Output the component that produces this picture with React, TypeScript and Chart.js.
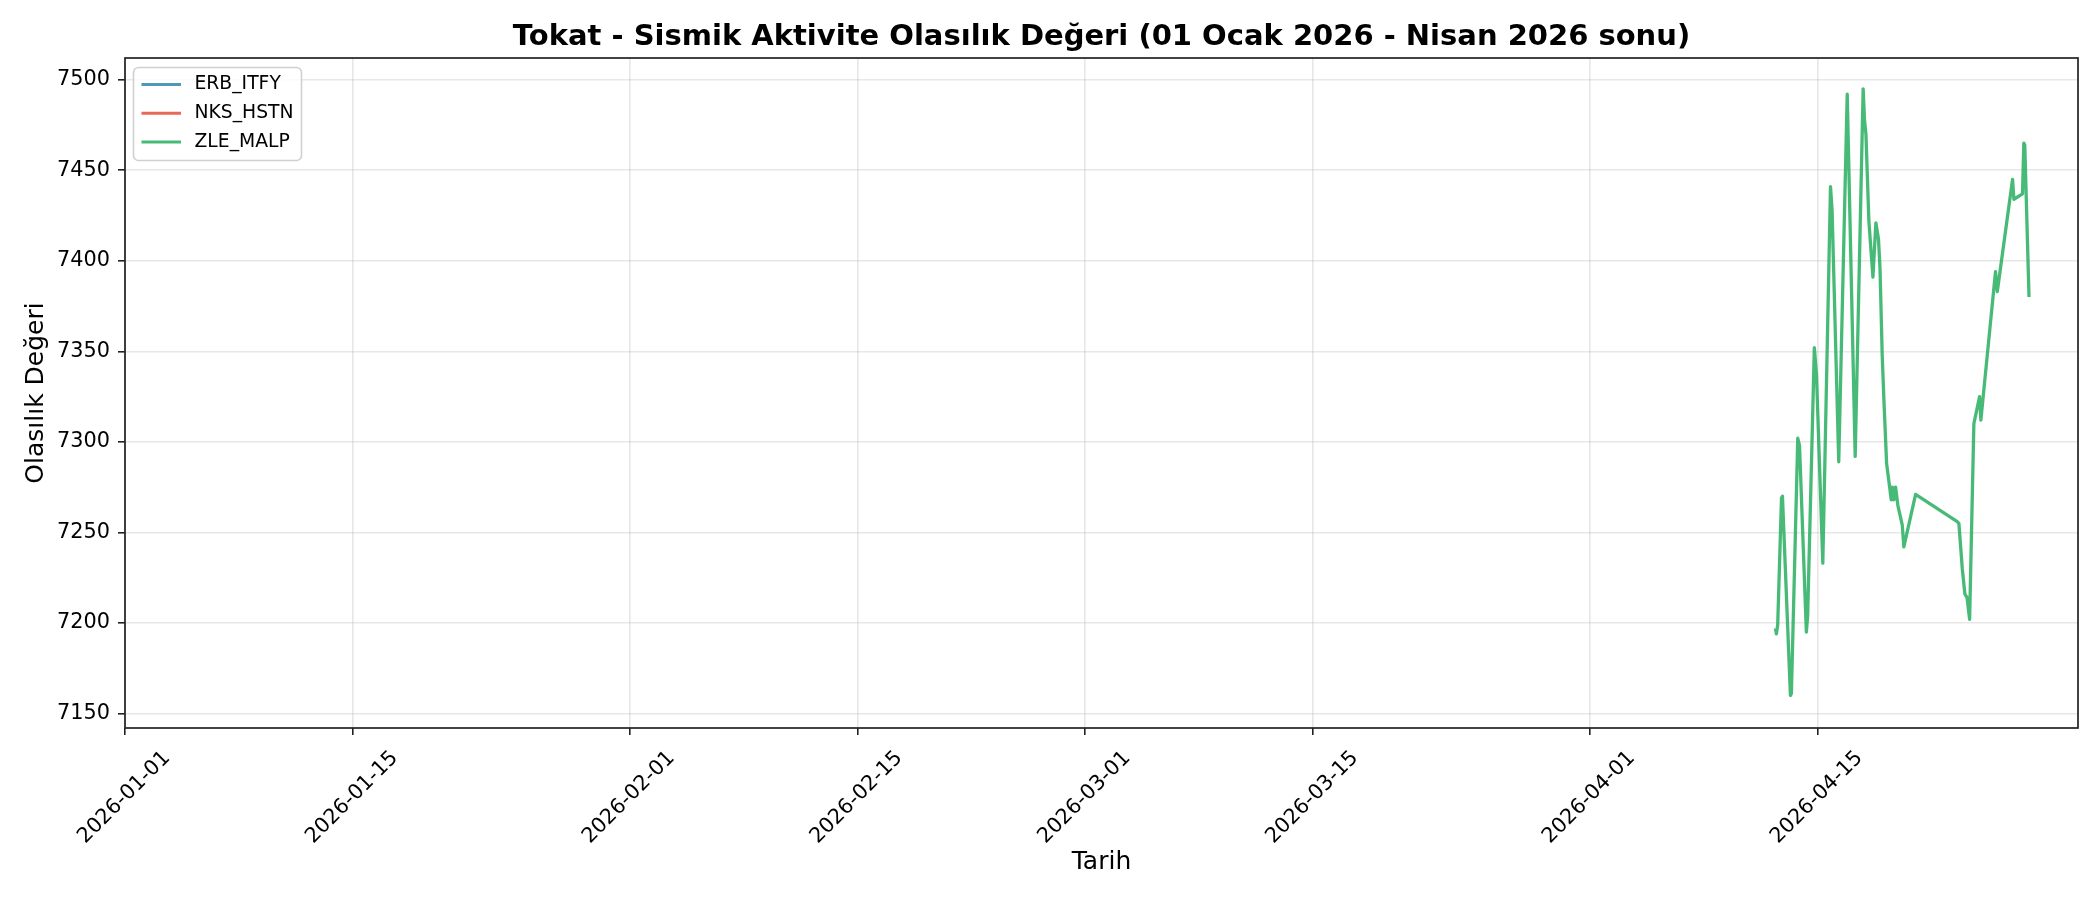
import React, { useEffect, useRef } from "react";
import { Chart, registerables } from "chart.js";

Chart.register(...registerables);

const TITLE = "Tokat - Sismik Aktivite Olasılık Değeri (01 Ocak 2026 - Nisan 2026 sonu)";
const X_TITLE = "Tarih";
const Y_TITLE = "Olasılık Değeri";

const SERIES_NAMES = ["ERB_ITFY", "NKS_HSTN", "ZLE_MALP"];
const SERIES_COLORS = ["rgba(46,134,171,0.85)", "rgba(231,76,60,0.85)", "rgba(39,174,96,0.85)"];

// ERB_ITFY and NKS_HSTN have no points in the shown range
const ERB_TIMES: string[] = [];
const ERB_VALUES: number[] = [];
const NKS_TIMES: string[] = [];
const NKS_VALUES: number[] = [];

const ZLE_TIMES = [
  "2026-04-12 09:50", "2026-04-12 11:15", "2026-04-12 13:10", "2026-04-12 18:45",
  "2026-04-12 20:10", "2026-04-12 22:05", "2026-04-13 07:55", "2026-04-13 09:20",
  "2026-04-13 18:45", "2026-04-13 21:20", "2026-04-14 07:25", "2026-04-14 09:20",
  "2026-04-14 19:10", "2026-04-14 22:20", "2026-04-15 07:40", "2026-04-15 19:00",
  "2026-04-15 21:20", "2026-04-16 07:10", "2026-04-16 19:40", "2026-04-17 07:25",
  "2026-04-17 19:10", "2026-04-17 21:05", "2026-04-17 23:15", "2026-04-18 03:35",
  "2026-04-18 09:35", "2026-04-18 13:55", "2026-04-18 17:45", "2026-04-18 20:00",
  "2026-04-18 23:15", "2026-04-19 01:40", "2026-04-19 05:45", "2026-04-19 10:35",
  "2026-04-19 12:30", "2026-04-19 14:25", "2026-04-19 16:20", "2026-04-19 19:00",
  "2026-04-19 22:20", "2026-04-20 04:50", "2026-04-20 07:10", "2026-04-21 00:30",
  "2026-04-23 13:55", "2026-04-23 16:20", "2026-04-23 21:20", "2026-04-24 01:10",
  "2026-04-24 04:20", "2026-04-24 08:10", "2026-04-24 14:25", "2026-04-24 22:50",
  "2026-04-25 00:45", "2026-04-25 22:20", "2026-04-26 01:00", "2026-04-26 23:30",
  "2026-04-27 01:25", "2026-04-27 14:10", "2026-04-27 16:05", "2026-04-27 17:30",
  "2026-04-27 23:45",
];
const ZLE_VALUES = [
  7197, 7194, 7199, 7269,
  7270, 7252, 7160, 7161,
  7302, 7298, 7195, 7204,
  7352, 7337, 7233, 7441,
  7428, 7289, 7492, 7292,
  7495, 7478, 7470, 7422,
  7391, 7421, 7412, 7396,
  7348, 7324, 7288, 7274,
  7268, 7275, 7268, 7275,
  7265, 7254, 7242, 7271,
  7256, 7255, 7230, 7216,
  7214, 7202, 7310, 7325,
  7312, 7394, 7383, 7445,
  7434, 7437, 7465, 7464,
  7380,
];

const X_TICKS = [
  "2026-01-01", "2026-01-15", "2026-02-01", "2026-02-15",
  "2026-03-01", "2026-03-15", "2026-04-01", "2026-04-15",
];
const X_MIN = "2026-01-01 00:00";
const X_MAX = "2026-04-30 23:59";
const Y_MIN = 7142;
const Y_MAX = 7512;
const Y_STEP = 50;

const FONT = "'DejaVu Sans', sans-serif";

const toMs = (s: string) => Date.parse((s.length === 10 ? s + " 00:00" : s).replace(" ", "T") + ":00Z");
const fmtDate = (ms: number) => new Date(ms).toISOString().slice(0, 10);

const points = (times: string[], values: number[]) =>
  times.map((t, i) => ({ x: toMs(t), y: values[i] }));

// spines, title and the legend box drawn the way matplotlib does
const framePlugin = {
  id: "frame",
  afterDraw(chart: any) {
    const { ctx, chartArea } = chart;
    const { left, right, top, bottom } = chartArea;
    ctx.save();

    ctx.strokeStyle = "#222";
    ctx.lineWidth = 1.7;
    ctx.strokeRect(left, top, right - left, bottom - top);

    ctx.fillStyle = "#000";
    ctx.font = `bold 29px ${FONT}`;
    ctx.textAlign = "center";
    ctx.textBaseline = "middle";
    ctx.fillText(TITLE, (left + right) / 2, 37);

    // legend
    const bx = left + 8.5;
    const by = top + 9.5;
    const bw = 168;
    const bh = 93;
    ctx.beginPath();
    ctx.roundRect(bx, by, bw, bh, 5);
    ctx.fillStyle = "rgba(255,255,255,0.8)";
    ctx.fill();
    ctx.strokeStyle = "#d0d0d0";
    ctx.lineWidth = 1.6;
    ctx.stroke();

    ctx.font = `18.75px ${FONT}`;
    ctx.textAlign = "left";
    chart.data.datasets.forEach((ds: any, i: number) => {
      const y = by + 17 + i * 28.7;
      ctx.beginPath();
      ctx.moveTo(bx + 8, y);
      ctx.lineTo(bx + 47.5, y);
      ctx.strokeStyle = ds.borderColor;
      ctx.lineWidth = 3;
      ctx.stroke();
      ctx.fillStyle = "#000";
      ctx.fillText(ds.label, bx + 61, y);
    });

    ctx.restore();
  },
};

const App = () => {
  const chartRef = useRef<HTMLCanvasElement | null>(null);

  useEffect(() => {
    document.body.style.margin = "0";
    if (!chartRef.current) return;

    const series = [
      points(ERB_TIMES, ERB_VALUES),
      points(NKS_TIMES, NKS_VALUES),
      points(ZLE_TIMES, ZLE_VALUES),
    ];

    const chart = new Chart(chartRef.current, {
      type: "line",
      data: {
        datasets: series.map((data, i) => ({
          label: SERIES_NAMES[i],
          data,
          borderColor: SERIES_COLORS[i],
          backgroundColor: SERIES_COLORS[i],
          borderWidth: 3.3,
          pointRadius: 0,
          tension: 0,
          borderJoinStyle: "round" as const,
          fill: false,
        })),
      },
      options: {
        animation: false,
        responsive: false,
        devicePixelRatio: 1,
        layout: { padding: { top: 58, right: 22, left: 0, bottom: 0 } },
        plugins: {
          legend: { display: false },
          title: { display: false },
          tooltip: { enabled: false },
        },
        scales: {
          x: {
            type: "linear",
            min: toMs(X_MIN),
            max: toMs(X_MAX),
            afterBuildTicks: (scale: any) => {
              scale.ticks = X_TICKS.map((d) => ({ value: toMs(d) }));
            },
            afterFit: (scale: any) => {
              scale.height = 172;
            },
            ticks: {
              autoSkip: false,
              minRotation: 45,
              maxRotation: 45,
              labelOffset: 42,
              padding: 11,
              color: "#000",
              font: { family: FONT, size: 20.8 },
              callback: (v: any) => fmtDate(Number(v)),
            },
            grid: {
              color: "rgba(176,176,176,0.3)",
              lineWidth: 1.6,
              tickColor: "#222",
              tickLength: 7,
              tickWidth: 1.6,
            },
            border: { display: false },
            title: {
              display: true,
              text: X_TITLE,
              color: "#000",
              font: { family: FONT, size: 25 },
              padding: { top: 0, bottom: 23 },
            },
          },
          y: {
            type: "linear",
            min: Y_MIN,
            max: Y_MAX,
            afterFit: (scale: any) => {
              scale.width = 125;
            },
            ticks: {
              stepSize: Y_STEP,
              includeBounds: false,
              padding: 8,
              color: "#000",
              font: { family: FONT, size: 20.8 },
              callback: (v: any) => String(v),
            },
            grid: {
              color: "rgba(176,176,176,0.3)",
              lineWidth: 1.6,
              tickColor: "#222",
              tickLength: 7,
              tickWidth: 1.6,
            },
            border: { display: false },
            title: {
              display: true,
              text: Y_TITLE,
              color: "#000",
              font: { family: FONT, size: 25 },
              padding: { top: 21, bottom: 0 },
            },
          },
        },
      },
      plugins: [framePlugin],
    });

    return () => {
      chart.destroy();
    };
  }, []);

  return <canvas ref={chartRef} width={2100} height={900} style={{ display: "block" }} />;
};

export default App;
